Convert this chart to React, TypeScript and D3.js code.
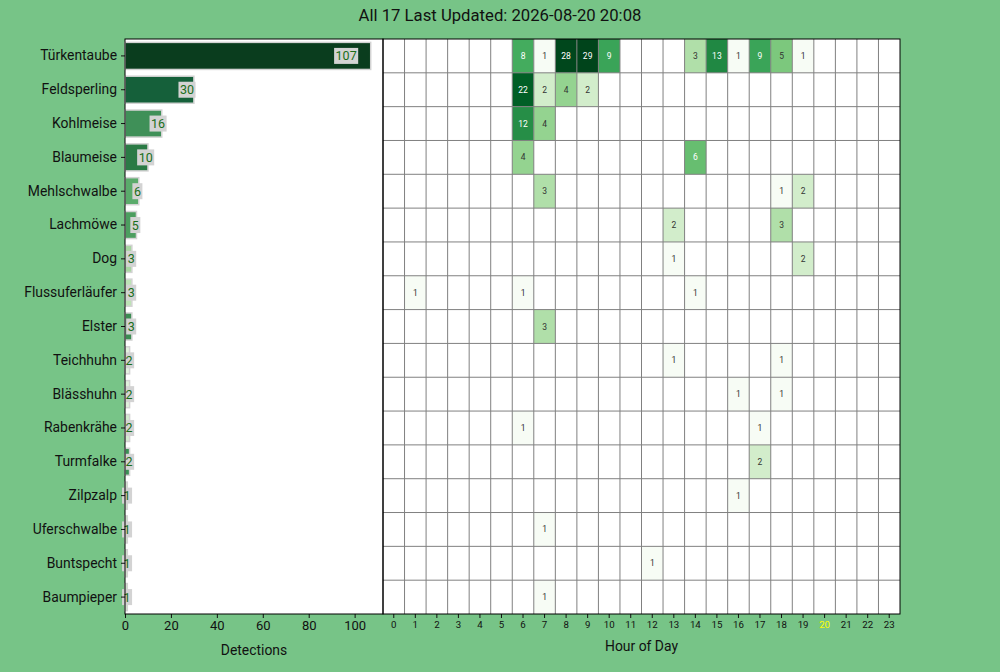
import React, { useEffect, useRef } from "react";
import * as d3 from "d3";

const species = [
  "Türkentaube", "Feldsperling", "Kohlmeise", "Blaumeise", "Mehlschwalbe", "Lachmöwe",
  "Dog", "Flussuferläufer", "Elster", "Teichhuhn", "Blässhuhn", "Rabenkrähe",
  "Turmfalke", "Zilpzalp", "Uferschwalbe", "Buntspecht", "Baumpieper",
];
const totals = [107, 30, 16, 10, 6, 5, 3, 3, 3, 2, 2, 2, 2, 1, 1, 1, 1];
const barColors = [
  "#0a3d1e", "#15603a", "#3f9058", "#2a7a45", "#5aab6b", "#4c9e5f",
  "#a9d6a2", "#bde3b5", "#3b8c52", "#e3f2df", "#e0f1dc", "#d4ebcf",
  "#3a9055", "#d0ebc9", "#d0ebc9", "#d0ebc9", "#d0ebc9",
];
const hours = d3.range(24);
// [speciesIndex, hour, count]
const hourly: [number, number, number][] = [
  [0, 6, 8], [0, 7, 1], [0, 8, 28], [0, 9, 29], [0, 10, 9], [0, 14, 3], [0, 15, 13], [0, 16, 1], [0, 17, 9], [0, 18, 5], [0, 19, 1],
  [1, 6, 22], [1, 7, 2], [1, 8, 4], [1, 9, 2],
  [2, 6, 12], [2, 7, 4],
  [3, 6, 4], [3, 14, 6],
  [4, 7, 3], [4, 18, 1], [4, 19, 2],
  [5, 13, 2], [5, 18, 3],
  [6, 13, 1], [6, 19, 2],
  [7, 1, 1], [7, 6, 1], [7, 14, 1],
  [8, 7, 3],
  [9, 13, 1], [9, 18, 1],
  [10, 16, 1], [10, 18, 1],
  [11, 6, 1], [11, 17, 1],
  [12, 17, 2],
  [13, 16, 1],
  [14, 7, 1],
  [15, 12, 1],
  [16, 7, 1],
];
const xTicks = [0, 20, 40, 60, 80, 100];
const currentHour = 20;
const titleText = "All 17 Last Updated: 2026-08-20 20:08";

const greens = ["#f7fcf5", "#e5f5e0", "#c7e9c0", "#a1d99b", "#74c476", "#41ab5d", "#238b45", "#006d2c", "#00441b"];

export default function App() {
  const ref = useRef<SVGSVGElement>(null);
  useEffect(() => {
    const svg = d3.select(ref.current!);
    svg.selectAll("*").remove();
    const W = 1000, H = 672;
    const font = "Roboto, 'DejaVu Sans', sans-serif";
    svg.append("rect").attr("width", W).attr("height", H).attr("fill", "#77c487");

    const top = 39, bottom = 614;
    const lx0 = 125, lx1 = 383, rx0 = 383, rx1 = 900;

    const y = d3.scaleBand<string>().domain(species).range([top, bottom]).paddingInner(0.2).paddingOuter(0.1);
    const yCell = d3.scaleBand<string>().domain(species).range([top, bottom]);
    const x = d3.scaleLinear().domain([0, d3.max(totals)! * 1.05]).range([lx0, lx1]);
    const xh = d3.scaleBand<number>().domain(hours).range([rx0, rx1]);

    // Left panel
    svg.append("rect").attr("x", lx0).attr("y", top).attr("width", lx1 - lx0).attr("height", bottom - top).attr("fill", "white");
    const bars = svg.append("g");
    species.forEach((s, i) => {
      bars.append("rect")
        .attr("x", x(0)).attr("y", y(s)!)
        .attr("width", x(totals[i]) - x(0)).attr("height", y.bandwidth())
        .attr("fill", barColors[i]).attr("stroke", "#d3d3d3").attr("stroke-width", 1.5);
    });
    const labels = svg.append("g");
    species.forEach((s, i) => {
      const g = labels.append("g");
      const t = g.append("text")
        .attr("x", x(totals[i] * 0.9)).attr("y", y(s)! + y.bandwidth() / 2)
        .attr("text-anchor", "middle").attr("dominant-baseline", "central")
        .attr("font-family", font).attr("font-size", 12.5).attr("fill", "#1a6e1a")
        .text(String(totals[i]));
      const bb = (t.node() as SVGTextElement).getBBox();
      g.insert("rect", "text").attr("x", bb.x - 1.5).attr("y", bb.y - 0.5)
        .attr("width", bb.width + 3).attr("height", bb.height + 1).attr("fill", "#d3d3d3");
    });

    // Left axes
    const yAx = svg.append("g").attr("transform", `translate(${lx0},0)`)
      .call(d3.axisLeft(y).tickSize(4).tickPadding(4));
    yAx.select(".domain").remove();
    yAx.selectAll("text").attr("font-family", font).attr("font-size", 13.9).attr("fill", "#111");
    yAx.selectAll("line").attr("stroke", "#111");
    const xAx = svg.append("g").attr("transform", `translate(0,${bottom})`)
      .call(d3.axisBottom(x).tickValues(xTicks).tickSize(4).tickPadding(3).tickFormat(d3.format("d")));
    xAx.select(".domain").remove();
    xAx.selectAll("text").attr("font-family", font).attr("font-size", 13).attr("fill", "#111");
    xAx.selectAll("line").attr("stroke", "#111");
    svg.append("text").attr("x", (lx0 + lx1) / 2).attr("y", 655).attr("text-anchor", "middle")
      .attr("font-family", font).attr("font-size", 13.9).attr("fill", "#111").text("Detections");

    // Heatmap
    svg.append("rect").attr("x", rx0).attr("y", top).attr("width", rx1 - rx0).attr("height", bottom - top).attr("fill", "white");
    const maxV = d3.max(hourly, (d) => d[2])!;
    const norm = d3.scaleLog().domain([1, maxV]).range([0, 1]).clamp(true);
    const cmap = d3.piecewise(d3.interpolateRgb, greens);
    const cells = svg.append("g");
    hourly.forEach(([si, h, v]) => {
      cells.append("rect").attr("x", xh(h)!).attr("y", yCell(species[si])!)
        .attr("width", xh.bandwidth()).attr("height", yCell.bandwidth())
        .attr("fill", cmap(norm(v)));
    });
    const grid = svg.append("g").attr("stroke", "#808080").attr("stroke-width", 1);
    hours.slice(1).forEach((h) => {
      grid.append("line").attr("x1", xh(h)!).attr("x2", xh(h)!).attr("y1", top).attr("y2", bottom);
    });
    species.slice(1).forEach((s) => {
      grid.append("line").attr("x1", rx0).attr("x2", rx1).attr("y1", yCell(s)!).attr("y2", yCell(s)!);
    });
    const cellText = svg.append("g");
    hourly.forEach(([si, h, v]) => {
      cellText.append("text").attr("x", xh(h)! + xh.bandwidth() / 2).attr("y", yCell(species[si])! + yCell.bandwidth() / 2)
        .attr("text-anchor", "middle").attr("dominant-baseline", "central")
        .attr("font-family", font).attr("font-size", 8.5)
        .attr("fill", norm(v) > 0.5 ? "white" : "#333")
        .text(String(v));
    });
    const hAx = svg.append("g").attr("transform", `translate(0,${bottom})`)
      .call(d3.axisBottom(xh).tickSize(4).tickPadding(3));
    hAx.select(".domain").remove();
    hAx.selectAll("text").attr("font-family", font).attr("font-size", 9.7)
      .attr("fill", (d: any) => (d === currentHour ? "yellow" : "#111"));
    hAx.selectAll("line").attr("stroke", "#111");
    svg.append("text").attr("x", (rx0 + rx1) / 2).attr("y", 651).attr("text-anchor", "middle")
      .attr("font-family", font).attr("font-size", 13.9).attr("fill", "#111").text("Hour of Day");

    // Spines
    svg.append("rect").attr("x", lx0).attr("y", top).attr("width", lx1 - lx0).attr("height", bottom - top)
      .attr("fill", "none").attr("stroke", "black").attr("stroke-width", 1);
    svg.append("rect").attr("x", rx0).attr("y", top).attr("width", rx1 - rx0).attr("height", bottom - top)
      .attr("fill", "none").attr("stroke", "black").attr("stroke-width", 1);

    // Title
    svg.append("text").attr("x", W / 2).attr("y", 21).attr("text-anchor", "middle")
      .attr("font-family", font).attr("font-size", 16.7).attr("fill", "#111").text(titleText);
  }, []);
  return (
    <svg ref={ref} width={1000} height={672} style={{ position: "absolute", left: 0, top: 0, display: "block" }} />
  );
}
